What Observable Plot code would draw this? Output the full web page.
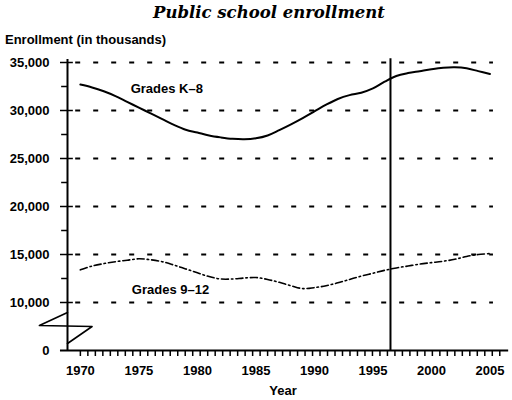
<!DOCTYPE html>
<html><head><meta charset="utf-8">
<script src="https://cdn.jsdelivr.net/npm/d3@7"></script>
<script src="https://cdn.jsdelivr.net/npm/@observablehq/plot@0.6"></script>
<style>
body{margin:0;background:#fff;}
#wrap{position:relative;width:512px;height:400px;font-family:"Liberation Sans",Arial,sans-serif;color:#000;}
#title{position:absolute;left:0;width:538px;top:3px;text-align:center;font:bold italic 16.5px "DejaVu Serif",serif;}
#ylab{position:absolute;left:5px;top:32px;font:bold 13px "Liberation Sans",Arial,sans-serif;}
#xlab{position:absolute;left:0;width:566px;top:383px;text-align:center;font:bold 13px "Liberation Sans",Arial,sans-serif;}
#chart{position:absolute;left:0;top:0;}
</style>
</head><body>
<div id="wrap">
<div id="chart"></div>
<div id="title">Public school enrollment</div>
<div id="ylab">Enrollment (in thousands)</div>
<div id="xlab">Year</div>
</div>
<script>
const years = [1970,1971,1972,1973,1974,1975,1976,1977,1978,1979,1980,1981,1982,1983,1984,1985,1986,1987,1988,1989,1990,1991,1992,1993,1994,1995,1996,1997,1998,1999,2000,2001,2002,2003,2004,2005];
const gradesK8 = [32700,32400,32000,31500,30900,30300,29700,29100,28500,28000,27700,27400,27200,27050,27000,27100,27400,27950,28550,29200,29900,30600,31200,31600,31850,32300,33000,33600,33900,34100,34300,34450,34500,34400,34100,33800];
const grades912 = [13400,13800,14050,14250,14400,14550,14450,14250,13900,13500,13100,12700,12450,12450,12550,12600,12400,12100,11750,11450,11550,11750,12050,12400,12750,13050,13350,13600,13800,14000,14150,14300,14500,14800,15000,15100];
const yTicks = [5000,10000,15000,20000,25000,30000,35000];
const yMinorTicks = [12500,17500,22500,27500,32500];
const gridValues = [10000,15000,20000,25000,30000,35000];
const xLabelYears = [1970,1975,1980,1985,1990,1995,2000,2005];
const projectionStart = 1996.5;
const seriesLabels = [
  {x:1974.3, y:32300, text:"Grades K\u20138"},
  {x:1974.4, y:11350, text:"Grades 9\u201312"}
];
const breakMark = [
  {x:1968.9, y:8960},{x:1966.5, y:7600},{x:1971.0, y:7500},{x:1968.9, y:5730}
];

const k8 = years.map((yr,i)=>({year:yr, value:gradesK8[i]}));
const g912 = years.map((yr,i)=>({year:yr, value:grades912[i]}));
const fmt = d3.format(",");

const chart = Plot.plot({
  width:512, height:400,
  marginLeft:67, marginRight:5, marginTop:62, marginBottom:50,
  style:{fontFamily:"Liberation Sans, Arial, sans-serif", fontSize:"13px", fontWeight:"bold", color:"#000", background:"#fff"},
  x:{domain:[1968.9, 2006.5]},
  y:{domain:[5000, 35000]},
  marks:[
    Plot.ruleY(gridValues, {x1:1969.6, x2:2005.3, stroke:"#000", strokeWidth:2, strokeDasharray:"5,13"}),
    Plot.ruleY([5000], {x1:1968.3, x2:2006.6, stroke:"#000", strokeWidth:2}),
    Plot.ruleX([1968.9], {y1:5000, y2:35300, stroke:"#000", strokeWidth:2}),
    Plot.ruleY(yTicks.slice(1), {x1:1968.3, x2:1969.4, stroke:"#000", strokeWidth:1.5}),
    Plot.ruleY(yMinorTicks, {x1:1968.4, x2:1968.9, stroke:"#000", strokeWidth:1.5}),
    Plot.axisY({ticks:yTicks, tickSize:0, tickPadding:18, label:null, tickFormat:d => d === 5000 ? "0" : fmt(d)}),
    Plot.axisX({ticks:d3.range(1970, 2006, 0.64), tickSize:6, tickFormat:() => "", label:null, strokeWidth:1.5}),
    Plot.axisX({ticks:xLabelYears, tickSize:0, tickPadding:15, label:null, tickFormat:d => String(d)}),
    Plot.ruleX([projectionStart], {y1:5000, y2:35400, stroke:"#000", strokeWidth:2}),
    Plot.line(k8, {x:"year", y:"value", stroke:"#000", strokeWidth:2, curve:"catmull-rom"}),
    Plot.line(g912, {x:"year", y:"value", stroke:"#000", strokeWidth:1.6, strokeDasharray:"7,3,1.5,3", curve:"catmull-rom"}),
    Plot.text(seriesLabels, {x:"x", y:"y", text:"text", textAnchor:"start", fill:"#000", fontSize:13, fontWeight:"bold"}),
    Plot.line(breakMark, {x:"x", y:"y", stroke:"#000", strokeWidth:1.6})
  ]
});
document.getElementById("chart").appendChild(chart);
</script>
</body></html>
